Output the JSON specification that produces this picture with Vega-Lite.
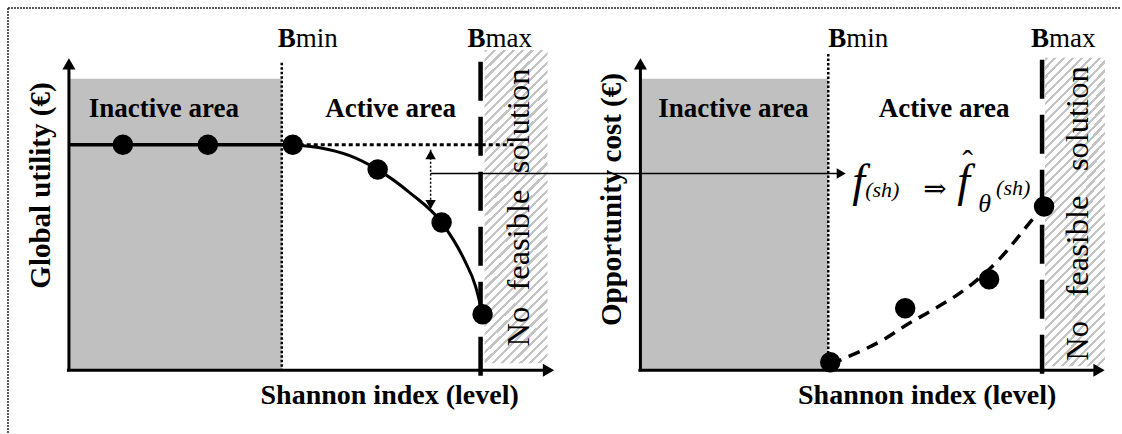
{
  "$schema": "https://vega.github.io/schema/vega-lite/v6.json",
  "width": 1122,
  "height": 434,
  "autosize": {"type": "fit", "contains": "padding"},
  "padding": 0,
  "background": "white",
  "config": {"view": {"stroke": null}, "text": {"font": "Liberation Serif, Times New Roman, Tinos, DejaVu Serif, serif"}},
  "datasets": {
    "border": [{"x": 8, "y": 8, "x2": 1122, "y2": 8}, {"x": 8, "y": 8, "x2": 8, "y2": 434}],
    "inactive": [{"x": 69, "x2": 282, "y": 79, "y2": 371}, {"x": 641, "x2": 829, "y": 79, "y2": 371}],
    "infeasible": [{"x": 485, "x2": 548, "y": 50, "y2": 364}, {"x": 1046, "x2": 1106, "y": 58, "y2": 367}],
    "axes": [
      {"x": 69, "y": 372, "x2": 69, "y2": 66},
      {"x": 67, "y": 371, "x2": 546, "y2": 371},
      {"x": 641, "y": 372, "x2": 641, "y2": 66},
      {"x": 639, "y": 371, "x2": 1096, "y2": 371}
    ],
    "axisArrows": [
      {"x": 69, "y": 64, "dir": "up"},
      {"x": 549, "y": 371, "dir": "right"},
      {"x": 641, "y": 64, "dir": "up"},
      {"x": 1100, "y": 371, "dir": "right"}
    ],
    "bmin": [{"x": 282, "y": 63, "x2": 282, "y2": 371}, {"x": 829, "y": 54, "x2": 829, "y2": 371}],
    "bmax": [{"x": 481, "y": 62, "x2": 481, "y2": 378}, {"x": 1043, "y": 60, "x2": 1043, "y2": 378}],
    "flat": [{"x": 69, "y": 145, "x2": 293, "y2": 145}],
    "ref": [{"x": 293, "y": 145, "x2": 514, "y2": 145}],
    "utility": [
      {"x": 293, "y": 145}, {"x": 320, "y": 148}, {"x": 350, "y": 156}, {"x": 378, "y": 170},
      {"x": 410, "y": 193}, {"x": 442, "y": 223}, {"x": 465, "y": 261}, {"x": 476, "y": 287}, {"x": 483, "y": 315}
    ],
    "cost": [
      {"x": 831, "y": 365}, {"x": 843, "y": 360}, {"x": 885, "y": 340}, {"x": 910, "y": 324},
      {"x": 933, "y": 311}, {"x": 970, "y": 287}, {"x": 1000, "y": 260}, {"x": 1030, "y": 224}, {"x": 1045, "y": 206}
    ],
    "gap": [{"x": 431, "y": 150, "x2": 431, "y2": 210}],
    "link": [{"x": 431, "y": 174, "x2": 838, "y2": 174}],
    "smallArrows": [
      {"x": 431, "y": 155, "dir": "up"},
      {"x": 431, "y": 205, "dir": "down"},
      {"x": 842, "y": 174, "dir": "right"}
    ],
    "points": [
      {"x": 123, "y": 145}, {"x": 208, "y": 145}, {"x": 293, "y": 145}, {"x": 378, "y": 170},
      {"x": 442, "y": 223}, {"x": 483, "y": 315},
      {"x": 831, "y": 363}, {"x": 906, "y": 309}, {"x": 990, "y": 280}, {"x": 1045, "y": 207}
    ],
    "areaLabels": [
      {"x": 164, "y": 117, "t": "Inactive area"},
      {"x": 391, "y": 117, "t": "Active area"},
      {"x": 734, "y": 117, "t": "Inactive area"},
      {"x": 945, "y": 117, "t": "Active area"}
    ],
    "xTitles": [
      {"x": 390, "y": 405, "t": "Shannon index (level)"},
      {"x": 928, "y": 405, "t": "Shannon index (level)"}
    ],
    "yTitles": [
      {"x": 50, "y": 186, "t": "Global utility (€)"},
      {"x": 622, "y": 200, "t": "Opportunity cost (€)"}
    ],
    "bLetters": [
      {"x": 278, "y": 47, "t": "B"}, {"x": 468, "y": 47, "t": "B"},
      {"x": 829, "y": 47, "t": "B"}, {"x": 1032, "y": 47, "t": "B"}
    ],
    "bSuffix": [
      {"x": 296, "y": 47, "t": "min"}, {"x": 486, "y": 47, "t": "max"},
      {"x": 847, "y": 47, "t": "min"}, {"x": 1050, "y": 47, "t": "max"}
    ],
    "noFeasible": [
      {"x": 529, "y": 208, "t": "No\u00a0 feasible\u00a0 solution"},
      {"x": 1089, "y": 214, "t": "No\u00a0\u00a0 feasible\u00a0\u00a0 solution"}
    ],
    "fBig": [{"x": 853, "y": 196, "t": "f"}, {"x": 958, "y": 196, "t": "f"}],
    "sub": [{"x": 866, "y": 197, "t": "(sh)"}, {"x": 997, "y": 195, "t": "(sh)"}],
    "theta": [{"x": 979, "y": 212, "t": "θ"}],
    "ops": [{"x": 924, "y": 198, "t": "⇒"}],
    "hat": [{"x": 963, "y": 172, "t": "ˆ"}]
  },
  "encoding": {
    "x": {"field": "x", "type": "quantitative", "scale": {"domain": [0, 1122], "nice": false, "zero": false}, "axis": null},
    "y": {"field": "y", "type": "quantitative", "scale": {"domain": [0, 434], "reverse": true, "nice": false, "zero": false}, "axis": null}
  },
  "layer": [
    {
      "data": {"name": "border"},
      "mark": {"type": "rule", "color": "#222222", "strokeWidth": 1.5, "strokeDash": [2, 1]},
      "encoding": {"x2": {"field": "x2"}, "y2": {"field": "y2"}}
    },
    {
      "data": {"name": "inactive"},
      "mark": {"type": "rect", "color": "#c0c0c0"},
      "encoding": {"x2": {"field": "x2"}, "y2": {"field": "y2"}}
    },
    {
      "data": {"name": "infeasible"},
      "mark": {
        "type": "rect",
        "fill": {
          "gradient": "linear", "x1": 0, "y1": 0, "x2": 0.227, "y2": 1.15,
          "stops": [
            {"offset": 0, "color": "#c4c4c4"}, {"offset": 0.0085, "color": "#c4c4c4"}, {"offset": 0.0085, "color": "#ffffff"}, {"offset": 0.0244, "color": "#ffffff"},
            {"offset": 0.0244, "color": "#c4c4c4"}, {"offset": 0.0329, "color": "#c4c4c4"}, {"offset": 0.0329, "color": "#ffffff"}, {"offset": 0.0488, "color": "#ffffff"},
            {"offset": 0.0488, "color": "#c4c4c4"}, {"offset": 0.0573, "color": "#c4c4c4"}, {"offset": 0.0573, "color": "#ffffff"}, {"offset": 0.0732, "color": "#ffffff"},
            {"offset": 0.0732, "color": "#c4c4c4"}, {"offset": 0.0817, "color": "#c4c4c4"}, {"offset": 0.0817, "color": "#ffffff"}, {"offset": 0.0976, "color": "#ffffff"},
            {"offset": 0.0976, "color": "#c4c4c4"}, {"offset": 0.1061, "color": "#c4c4c4"}, {"offset": 0.1061, "color": "#ffffff"}, {"offset": 0.1220, "color": "#ffffff"},
            {"offset": 0.1220, "color": "#c4c4c4"}, {"offset": 0.1305, "color": "#c4c4c4"}, {"offset": 0.1305, "color": "#ffffff"}, {"offset": 0.1463, "color": "#ffffff"},
            {"offset": 0.1463, "color": "#c4c4c4"}, {"offset": 0.1548, "color": "#c4c4c4"}, {"offset": 0.1548, "color": "#ffffff"}, {"offset": 0.1707, "color": "#ffffff"},
            {"offset": 0.1707, "color": "#c4c4c4"}, {"offset": 0.1792, "color": "#c4c4c4"}, {"offset": 0.1792, "color": "#ffffff"}, {"offset": 0.1951, "color": "#ffffff"},
            {"offset": 0.1951, "color": "#c4c4c4"}, {"offset": 0.2036, "color": "#c4c4c4"}, {"offset": 0.2036, "color": "#ffffff"}, {"offset": 0.2195, "color": "#ffffff"},
            {"offset": 0.2195, "color": "#c4c4c4"}, {"offset": 0.2280, "color": "#c4c4c4"}, {"offset": 0.2280, "color": "#ffffff"}, {"offset": 0.2439, "color": "#ffffff"},
            {"offset": 0.2439, "color": "#c4c4c4"}, {"offset": 0.2524, "color": "#c4c4c4"}, {"offset": 0.2524, "color": "#ffffff"}, {"offset": 0.2683, "color": "#ffffff"},
            {"offset": 0.2683, "color": "#c4c4c4"}, {"offset": 0.2768, "color": "#c4c4c4"}, {"offset": 0.2768, "color": "#ffffff"}, {"offset": 0.2927, "color": "#ffffff"},
            {"offset": 0.2927, "color": "#c4c4c4"}, {"offset": 0.3012, "color": "#c4c4c4"}, {"offset": 0.3012, "color": "#ffffff"}, {"offset": 0.3171, "color": "#ffffff"},
            {"offset": 0.3171, "color": "#c4c4c4"}, {"offset": 0.3256, "color": "#c4c4c4"}, {"offset": 0.3256, "color": "#ffffff"}, {"offset": 0.3415, "color": "#ffffff"},
            {"offset": 0.3415, "color": "#c4c4c4"}, {"offset": 0.3500, "color": "#c4c4c4"}, {"offset": 0.3500, "color": "#ffffff"}, {"offset": 0.3659, "color": "#ffffff"},
            {"offset": 0.3659, "color": "#c4c4c4"}, {"offset": 0.3744, "color": "#c4c4c4"}, {"offset": 0.3744, "color": "#ffffff"}, {"offset": 0.3902, "color": "#ffffff"},
            {"offset": 0.3902, "color": "#c4c4c4"}, {"offset": 0.3987, "color": "#c4c4c4"}, {"offset": 0.3987, "color": "#ffffff"}, {"offset": 0.4146, "color": "#ffffff"},
            {"offset": 0.4146, "color": "#c4c4c4"}, {"offset": 0.4231, "color": "#c4c4c4"}, {"offset": 0.4231, "color": "#ffffff"}, {"offset": 0.4390, "color": "#ffffff"},
            {"offset": 0.4390, "color": "#c4c4c4"}, {"offset": 0.4475, "color": "#c4c4c4"}, {"offset": 0.4475, "color": "#ffffff"}, {"offset": 0.4634, "color": "#ffffff"},
            {"offset": 0.4634, "color": "#c4c4c4"}, {"offset": 0.4719, "color": "#c4c4c4"}, {"offset": 0.4719, "color": "#ffffff"}, {"offset": 0.4878, "color": "#ffffff"},
            {"offset": 0.4878, "color": "#c4c4c4"}, {"offset": 0.4963, "color": "#c4c4c4"}, {"offset": 0.4963, "color": "#ffffff"}, {"offset": 0.5122, "color": "#ffffff"},
            {"offset": 0.5122, "color": "#c4c4c4"}, {"offset": 0.5207, "color": "#c4c4c4"}, {"offset": 0.5207, "color": "#ffffff"}, {"offset": 0.5366, "color": "#ffffff"},
            {"offset": 0.5366, "color": "#c4c4c4"}, {"offset": 0.5451, "color": "#c4c4c4"}, {"offset": 0.5451, "color": "#ffffff"}, {"offset": 0.5610, "color": "#ffffff"},
            {"offset": 0.5610, "color": "#c4c4c4"}, {"offset": 0.5695, "color": "#c4c4c4"}, {"offset": 0.5695, "color": "#ffffff"}, {"offset": 0.5854, "color": "#ffffff"},
            {"offset": 0.5854, "color": "#c4c4c4"}, {"offset": 0.5939, "color": "#c4c4c4"}, {"offset": 0.5939, "color": "#ffffff"}, {"offset": 0.6098, "color": "#ffffff"},
            {"offset": 0.6098, "color": "#c4c4c4"}, {"offset": 0.6183, "color": "#c4c4c4"}, {"offset": 0.6183, "color": "#ffffff"}, {"offset": 0.6341, "color": "#ffffff"},
            {"offset": 0.6341, "color": "#c4c4c4"}, {"offset": 0.6426, "color": "#c4c4c4"}, {"offset": 0.6426, "color": "#ffffff"}, {"offset": 0.6585, "color": "#ffffff"},
            {"offset": 0.6585, "color": "#c4c4c4"}, {"offset": 0.6670, "color": "#c4c4c4"}, {"offset": 0.6670, "color": "#ffffff"}, {"offset": 0.6829, "color": "#ffffff"},
            {"offset": 0.6829, "color": "#c4c4c4"}, {"offset": 0.6914, "color": "#c4c4c4"}, {"offset": 0.6914, "color": "#ffffff"}, {"offset": 0.7073, "color": "#ffffff"},
            {"offset": 0.7073, "color": "#c4c4c4"}, {"offset": 0.7158, "color": "#c4c4c4"}, {"offset": 0.7158, "color": "#ffffff"}, {"offset": 0.7317, "color": "#ffffff"},
            {"offset": 0.7317, "color": "#c4c4c4"}, {"offset": 0.7402, "color": "#c4c4c4"}, {"offset": 0.7402, "color": "#ffffff"}, {"offset": 0.7561, "color": "#ffffff"},
            {"offset": 0.7561, "color": "#c4c4c4"}, {"offset": 0.7646, "color": "#c4c4c4"}, {"offset": 0.7646, "color": "#ffffff"}, {"offset": 0.7805, "color": "#ffffff"},
            {"offset": 0.7805, "color": "#c4c4c4"}, {"offset": 0.7890, "color": "#c4c4c4"}, {"offset": 0.7890, "color": "#ffffff"}, {"offset": 0.8049, "color": "#ffffff"},
            {"offset": 0.8049, "color": "#c4c4c4"}, {"offset": 0.8134, "color": "#c4c4c4"}, {"offset": 0.8134, "color": "#ffffff"}, {"offset": 0.8293, "color": "#ffffff"},
            {"offset": 0.8293, "color": "#c4c4c4"}, {"offset": 0.8378, "color": "#c4c4c4"}, {"offset": 0.8378, "color": "#ffffff"}, {"offset": 0.8537, "color": "#ffffff"},
            {"offset": 0.8537, "color": "#c4c4c4"}, {"offset": 0.8622, "color": "#c4c4c4"}, {"offset": 0.8622, "color": "#ffffff"}, {"offset": 0.8780, "color": "#ffffff"},
            {"offset": 0.8780, "color": "#c4c4c4"}, {"offset": 0.8865, "color": "#c4c4c4"}, {"offset": 0.8865, "color": "#ffffff"}, {"offset": 0.9024, "color": "#ffffff"},
            {"offset": 0.9024, "color": "#c4c4c4"}, {"offset": 0.9109, "color": "#c4c4c4"}, {"offset": 0.9109, "color": "#ffffff"}, {"offset": 0.9268, "color": "#ffffff"},
            {"offset": 0.9268, "color": "#c4c4c4"}, {"offset": 0.9353, "color": "#c4c4c4"}, {"offset": 0.9353, "color": "#ffffff"}, {"offset": 0.9512, "color": "#ffffff"},
            {"offset": 0.9512, "color": "#c4c4c4"}, {"offset": 0.9597, "color": "#c4c4c4"}, {"offset": 0.9597, "color": "#ffffff"}, {"offset": 0.9756, "color": "#ffffff"},
            {"offset": 0.9756, "color": "#c4c4c4"}, {"offset": 0.9841, "color": "#c4c4c4"}, {"offset": 0.9841, "color": "#ffffff"}, {"offset": 1, "color": "#ffffff"}
          ]
        }
      },
      "encoding": {"x2": {"field": "x2"}, "y2": {"field": "y2"}}
    },
    {
      "data": {"name": "noFeasible"},
      "mark": {"type": "text", "fontSize": 32.5, "angle": 270, "align": "center", "baseline": "alphabetic", "color": "black"},
      "encoding": {"text": {"field": "t"}}
    },
    {
      "data": {"name": "bmin"},
      "mark": {"type": "rule", "color": "black", "strokeWidth": 2.5, "strokeDash": [2.5, 2]},
      "encoding": {"x2": {"field": "x2"}, "y2": {"field": "y2"}}
    },
    {
      "data": {"name": "bmax"},
      "mark": {"type": "rule", "color": "black", "strokeWidth": 4.5, "strokeDash": [39, 16], "strokeCap": "butt"},
      "encoding": {"x2": {"field": "x2"}, "y2": {"field": "y2"}}
    },
    {
      "data": {"name": "axes"},
      "mark": {"type": "rule", "color": "black", "strokeWidth": 3},
      "encoding": {"x2": {"field": "x2"}, "y2": {"field": "y2"}}
    },
    {
      "data": {"name": "axisArrows"},
      "mark": {"type": "point", "filled": true, "color": "black", "opacity": 1, "size": 170},
      "encoding": {"shape": {"field": "dir", "type": "nominal", "scale": {"domain": ["up", "down", "right"], "range": ["triangle-up", "triangle-down", "triangle-right"]}, "legend": null}}
    },
    {
      "data": {"name": "flat"},
      "mark": {"type": "rule", "color": "black", "strokeWidth": 3.5},
      "encoding": {"x2": {"field": "x2"}, "y2": {"field": "y2"}}
    },
    {
      "data": {"name": "ref"},
      "mark": {"type": "rule", "color": "black", "strokeWidth": 3, "strokeDash": [4, 3]},
      "encoding": {"x2": {"field": "x2"}, "y2": {"field": "y2"}}
    },
    {
      "data": {"name": "utility"},
      "mark": {"type": "line", "color": "black", "strokeWidth": 3, "interpolate": "monotone"},
      "encoding": {}
    },
    {
      "data": {"name": "cost"},
      "mark": {"type": "line", "color": "black", "strokeWidth": 3.5, "strokeDash": [12, 8], "interpolate": "monotone"},
      "encoding": {}
    },
    {
      "data": {"name": "gap"},
      "mark": {"type": "rule", "color": "black", "strokeWidth": 1.5, "strokeDash": [2, 2]},
      "encoding": {"x2": {"field": "x2"}, "y2": {"field": "y2"}}
    },
    {
      "data": {"name": "link"},
      "mark": {"type": "rule", "color": "black", "strokeWidth": 1.5},
      "encoding": {"x2": {"field": "x2"}, "y2": {"field": "y2"}}
    },
    {
      "data": {"name": "smallArrows"},
      "mark": {"type": "point", "filled": true, "color": "black", "opacity": 1, "size": 110},
      "encoding": {"shape": {"field": "dir", "type": "nominal", "scale": {"domain": ["up", "down", "right"], "range": ["triangle-up", "triangle-down", "triangle-right"]}, "legend": null}}
    },
    {
      "data": {"name": "points"},
      "mark": {"type": "point", "shape": "circle", "filled": true, "color": "black", "opacity": 1, "size": 420},
      "encoding": {}
    },
    {
      "data": {"name": "areaLabels"},
      "mark": {"type": "text", "fontWeight": "bold", "fontSize": 27, "align": "center", "baseline": "alphabetic", "color": "black"},
      "encoding": {"text": {"field": "t"}}
    },
    {
      "data": {"name": "xTitles"},
      "mark": {"type": "text", "fontWeight": "bold", "fontSize": 28, "align": "center", "baseline": "alphabetic", "color": "black"},
      "encoding": {"text": {"field": "t"}}
    },
    {
      "data": {"name": "yTitles"},
      "mark": {"type": "text", "fontWeight": "bold", "fontSize": 29, "angle": 270, "align": "center", "baseline": "alphabetic", "color": "black"},
      "encoding": {"text": {"field": "t"}}
    },
    {
      "data": {"name": "bLetters"},
      "mark": {"type": "text", "fontWeight": "bold", "fontSize": 27, "align": "left", "baseline": "alphabetic", "color": "black"},
      "encoding": {"text": {"field": "t"}}
    },
    {
      "data": {"name": "bSuffix"},
      "mark": {"type": "text", "fontSize": 27, "align": "left", "baseline": "alphabetic", "color": "black"},
      "encoding": {"text": {"field": "t"}}
    },
    {
      "data": {"name": "fBig"},
      "mark": {"type": "text", "fontStyle": "italic", "fontSize": 46, "align": "left", "baseline": "alphabetic", "color": "black"},
      "encoding": {"text": {"field": "t"}}
    },
    {
      "data": {"name": "sub"},
      "mark": {"type": "text", "fontStyle": "italic", "fontSize": 22, "align": "left", "baseline": "alphabetic", "color": "black"},
      "encoding": {"text": {"field": "t"}}
    },
    {
      "data": {"name": "theta"},
      "mark": {"type": "text", "fontStyle": "italic", "fontSize": 26, "align": "left", "baseline": "alphabetic", "color": "black"},
      "encoding": {"text": {"field": "t"}}
    },
    {
      "data": {"name": "ops"},
      "mark": {"type": "text", "fontSize": 28, "align": "left", "baseline": "alphabetic", "color": "black"},
      "encoding": {"text": {"field": "t"}}
    },
    {
      "data": {"name": "hat"},
      "mark": {"type": "text", "fontSize": 32, "align": "left", "baseline": "alphabetic", "color": "black"},
      "encoding": {"text": {"field": "t"}}
    }
  ]
}
